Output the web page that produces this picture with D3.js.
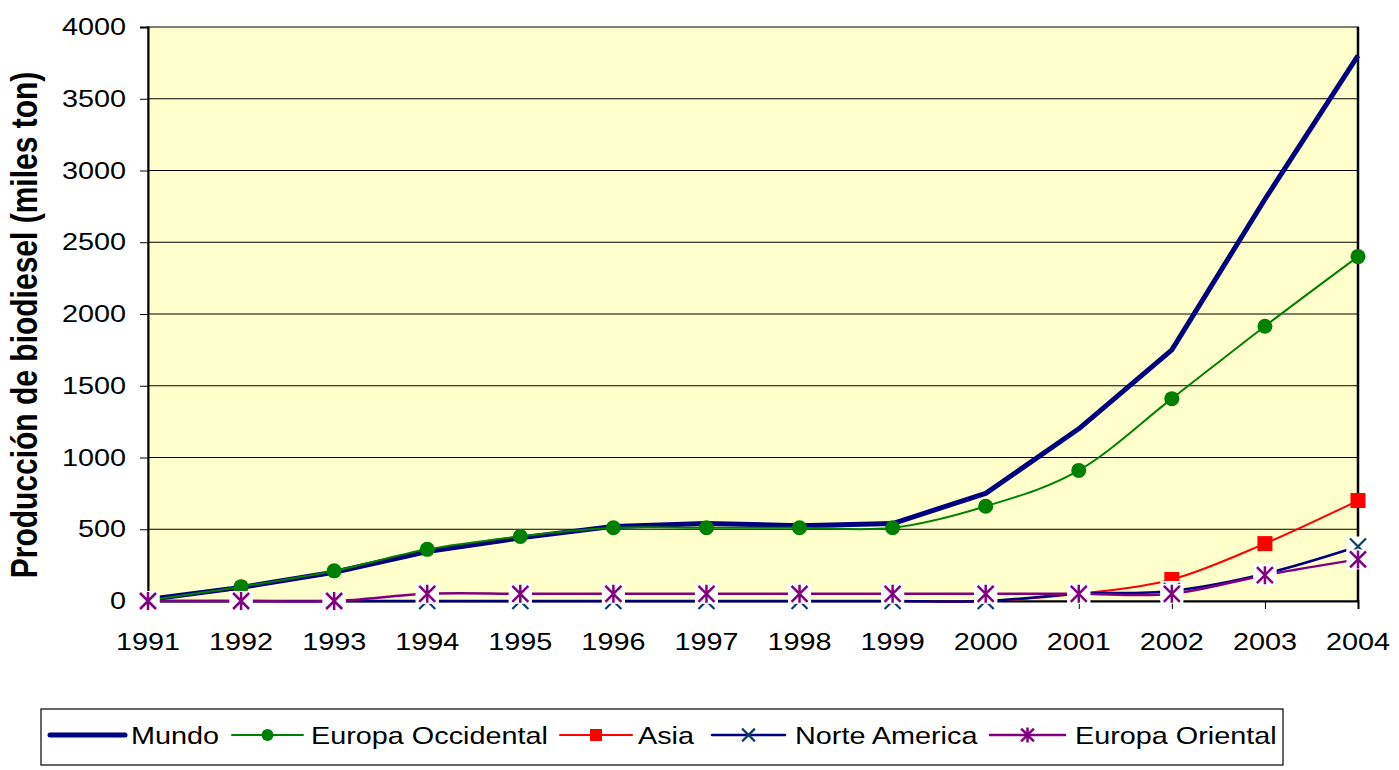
<!DOCTYPE html>
<html><head><meta charset="utf-8">
<script src="https://cdn.jsdelivr.net/npm/d3@7"></script>
<style>body{margin:0;background:#fff;} svg{display:block;font-family:"Liberation Sans",Arial,sans-serif;}</style>
</head><body>
<svg id="c" width="1399" height="770"></svg>
<script>
const years = [1991,1992,1993,1994,1995,1996,1997,1998,1999,2000,2001,2002,2003,2004];
const yTicks = [0,500,1000,1500,2000,2500,3000,3500,4000];
const mundo = [10,95,200,345,440,520,540,525,540,750,1200,1750,2800,3800];
const europaOcc = [5,100,210,360,450,510,510,510,510,660,910,1410,1915,2400];
const asia = [0,0,0,0,0,0,0,0,0,0,50,150,400,700];
const norteAmerica = [0,0,0,0,0,0,0,0,0,0,50,70,190,380];
const europaOri = [0,0,0,50,50,50,50,50,50,50,50,50,180,290];
const seriesNames = ["Mundo","Europa Occidental","Asia","Norte America","Europa Oriental"];

const svg = d3.select("#c");
const L=148, R=1358, T=27, B=601, SX=1.2;
const x = d3.scalePoint().domain(years).range([L,R]);
const y = d3.scaleLinear().domain([0,4000]).range([B,T]);

svg.append("rect").attr("x",L).attr("y",T).attr("width",R-L).attr("height",B-T)
  .attr("fill","#FFFFCC").attr("stroke","#808080").attr("stroke-width",2);

svg.append("g").selectAll("line").data(yTicks.filter(d=>d>0&&d<4000)).join("line")
  .attr("x1",L).attr("x2",R).attr("y1",d=>y(d)).attr("y2",d=>y(d))
  .attr("stroke","#000").attr("stroke-width",1);

const ya = svg.append("g").attr("transform",`translate(${L},0)`)
  .call(d3.axisLeft(y).tickValues(yTicks).tickSize(8).tickPadding(0).tickFormat(""));
ya.select(".domain").attr("stroke","#000").attr("stroke-width",2);
ya.selectAll(".tick line").attr("stroke","#000").attr("stroke-width",1);
svg.append("g").selectAll("text").data(yTicks).join("text")
  .attr("transform",d=>`translate(126,${y(d)+8}) scale(${SX},1)`)
  .attr("text-anchor","end").attr("font-size",24).attr("fill","#000").text(d=>d);

const xa = svg.append("g").attr("transform",`translate(0,${B})`)
  .call(d3.axisBottom(x).tickSize(8).tickFormat(""));
xa.select(".domain").attr("stroke","#000").attr("stroke-width",2);
xa.selectAll(".tick line").attr("stroke","#000").attr("stroke-width",1);
svg.append("g").selectAll("text").data(years).join("text")
  .attr("transform",d=>`translate(${x(d)},650) scale(${SX},1)`)
  .attr("text-anchor","middle").attr("font-size",24).attr("fill","#000").text(d=>d);

svg.append("line").attr("x1",R).attr("x2",R).attr("y1",T).attr("y2",B).attr("stroke","#000").attr("stroke-width",2.5);

svg.append("text").attr("transform",`translate(37,325) scale(${SX},1) rotate(-90)`)
  .attr("text-anchor","middle").attr("font-size",30).attr("font-weight","bold").attr("fill","#000")
  .text("Producción de biodiesel (miles ton)");

const smooth = d3.curveCardinal.tension(0);
const styles = [
  {data:mundo, color:"#000080", w:5, marker:null, curve:d3.curveLinear},
  {data:europaOcc, color:"#008000", w:2, marker:"circle", mcolor:"#008000", curve:smooth},
  {data:asia, color:"#FF0000", w:2, marker:"square", mcolor:"#FF0000", curve:smooth},
  {data:norteAmerica, color:"#000080", w:2.5, marker:"x", mcolor:"#0B3D6B", curve:smooth},
  {data:europaOri, color:"#800080", w:2.5, marker:"star", mcolor:"#800080", curve:smooth}
];
const lg = svg.append("g");
styles.forEach(s=>{
  const line = d3.line().x((d,i)=>x(years[i])).y(d=>y(d)).curve(s.curve);
  lg.append("path").attr("d",line(s.data)).attr("fill","none").attr("stroke",s.color).attr("stroke-width",s.w)
    .attr("stroke-linejoin","round");
});

function drawMarker(g,type,cx,cy,col,sc){
  sc = sc||1;
  if(type==="circle"){
    g.append("circle").attr("cx",cx).attr("cy",cy).attr("r",7.5*sc).attr("fill",col);
  } else if(type==="square"){
    const s=15*sc;
    g.append("rect").attr("x",cx-s/2).attr("y",cy-s/2).attr("width",s).attr("height",s).attr("fill",col);
  } else if(type==="x"){
    const h=8*sc;
    g.append("path").attr("d",`M${cx-h},${cy-h}L${cx+h},${cy+h}M${cx-h},${cy+h}L${cx+h},${cy-h}`)
      .attr("stroke",col).attr("stroke-width",2.2).attr("fill","none");
  } else if(type==="star"){
    const h=8*sc;
    g.append("path").attr("d",`M${cx-h},${cy-h}L${cx+h},${cy+h}M${cx-h},${cy+h}L${cx+h},${cy-h}M${cx},${cy-h-1}L${cx},${cy+h+1}`)
      .attr("stroke",col).attr("stroke-width",2.5).attr("fill","none");
  }
}
const mg = svg.append("g");
styles.forEach(s=>{
  if(!s.marker) return;
  s.data.forEach((v,i)=>{
    const cx=x(years[i]), cy=y(v);
    if(s.marker==="x"||s.marker==="star"){
      mg.append("rect").attr("x",cx-11.5).attr("y",cy-10).attr("width",23).attr("height",20).attr("fill","#fff");
    }
    drawMarker(mg,s.marker,cx,cy,s.mcolor);
  });
});

const leg = svg.append("g");
leg.append("rect").attr("x",41).attr("y",709).attr("width",1242).attr("height",56)
  .attr("fill","#fff").attr("stroke","#000").attr("stroke-width",1.2);
const legPos = [
  {x1:50,x2:125,tx:131},
  {x1:232,x2:303,tx:311},
  {x1:560,x2:632,tx:638},
  {x1:712,x2:785,tx:795},
  {x1:990,x2:1065,tx:1075}
];
const ly=735;
styles.forEach((s,i)=>{
  const p=legPos[i];
  leg.append("line").attr("x1",p.x1).attr("x2",p.x2).attr("y1",ly).attr("y2",ly)
    .attr("stroke",s.color).attr("stroke-width",s.w).attr("stroke-linecap","round");
  if(s.marker) drawMarker(leg,s.marker,(p.x1+p.x2)/2,ly,s.mcolor,0.8);
  leg.append("text").attr("transform",`translate(${p.tx},${ly+9}) scale(${SX},1)`)
    .attr("font-size",24).attr("fill","#000").text(seriesNames[i]);
});
</script>
</body></html>
